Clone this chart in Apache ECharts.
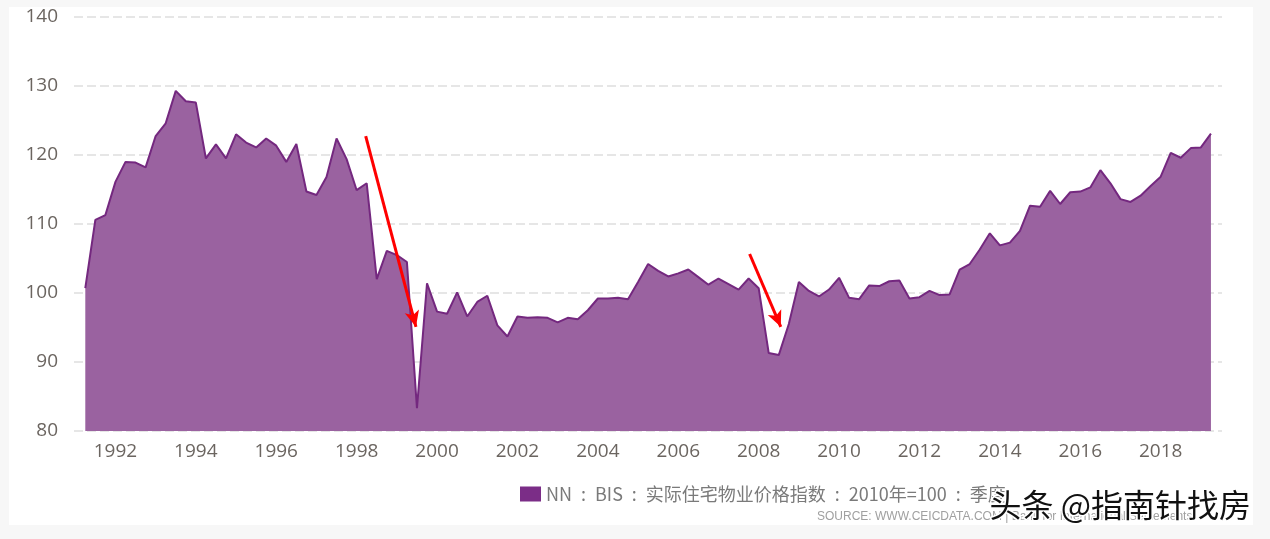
<!DOCTYPE html>
<html>
<head>
<meta charset="utf-8">
<script src="https://cdn.jsdelivr.net/npm/echarts@6/dist/echarts.min.js"></script>
<style>
html,body{margin:0;padding:0;background:#f7f7f7;}
#c{width:1270px;height:539px;}
</style>
</head>
<body>
<div id="c"></div>
<script>
// Quarterly data, first quarter 1991 Q2
const startYear = 1991;
const startQuarter = 2;
const values = [
  100.7, 110.6, 111.3, 116.1, 119.0, 118.9, 118.2, 122.75, 124.6, 129.3,
  127.8, 127.6, 119.5, 121.55, 119.5, 123.0, 121.8, 121.1, 122.4, 121.35,
  119.0, 121.6, 114.7, 114.2, 116.8, 122.4, 119.4, 114.9, 115.9, 102.0,
  106.1, 105.5, 104.5, 83.3, 101.4, 97.3, 97.0, 100.1, 96.6, 98.7,
  99.6, 95.3, 93.7, 96.6, 96.4, 96.5, 96.4, 95.75, 96.4, 96.2,
  97.5, 99.2, 99.2, 99.3, 99.1, 101.6, 104.2, 103.2, 102.4, 102.85,
  103.4, 102.3, 101.2, 102.1, 101.3, 100.5, 102.1, 100.7, 91.3, 91.0,
  95.5, 101.6, 100.3, 99.5, 100.5, 102.2, 99.3, 99.1, 101.1, 101.0,
  101.7, 101.8, 99.2, 99.4, 100.3, 99.7, 99.8, 103.4, 104.2, 106.3,
  108.65, 106.9, 107.3, 109.0, 112.65, 112.5, 114.8, 112.9, 114.6, 114.7,
  115.3, 117.8, 115.9, 113.6, 113.2, 114.1, 115.5, 116.85, 120.3, 119.6,
  121.0, 121.1, 123.1
];
const tickYears = [1992,1994,1996,1998,2000,2002,2004,2006,2008,2010,2012,2014,2016,2018];
const yTicks = [80, 90, 100, 110, 120, 130, 140];
const seriesName = 'NN\u2002:\u2002BIS\u2002:\u2002实际住宅物业价格指数\u2002:\u20022010年=100\u2002:\u2002季度';
// annotation arrows: [fromIndex, fromValue, toIndex, toValue]
const arrows = [
  [27.9, 122.75, 32.9, 95.1],
  [66.1, 105.65, 69.2, 95.1]
];

const categories = values.map((v, i) => {
  const q = startQuarter - 1 + i;
  return (startYear + Math.floor(q / 4)) + 'Q' + (q % 4 + 1);
});
const tickIdx = tickYears.map(y => (y - startYear) * 4 - (startQuarter - 1));
const seriesData = values.map((v, i) => [i, v]);
const axisFont = '"Open Sans", sans-serif';

const chart = echarts.init(document.getElementById('c'), null, {renderer: 'canvas'});
chart.setOption({
  backgroundColor: '#f7f7f7',
  animation: false,
  graphic: [
    {type: 'rect', z: -10, shape: {x: 9, y: 7, width: 1244, height: 518}, style: {fill: '#ffffff'}},
    {type: 'text', z: 50, left: 817, top: 511,
     style: {text: 'SOURCE: WWW.CEICDATA.COM | Bank for International Settlements', fill: '#a0a0a0',
             font: '12px "Liberation Sans", sans-serif'}},
    {type: 'text', z: 60, left: 988, top: 487,
     style: {text: '头条 @指南针找房', fill: '#111111', stroke: '#ffffff', lineWidth: 3,
             font: '32px "Noto Sans CJK SC", sans-serif'}}
  ],
  grid: {left: 74, right: 48, top: 17, bottom: 108, containLabel: false},
  legend: {
    left: 520, top: 485, padding: 0, itemWidth: 21, itemHeight: 15, icon: 'rect',
    data: [{name: seriesName, itemStyle: {color: '#7b2d87'}}],
    textStyle: {color: '#7a7a7a', fontSize: 18, fontFamily: '"Noto Sans CJK SC", sans-serif'}
  },
  xAxis: {
    type: 'value', min: -1.124, max: 113.1,
    axisLine: {show: false}, axisTick: {show: false}, splitLine: {show: false},
    axisLabel: {
      customValues: tickIdx, margin: 11,
      formatter: v => categories[Math.round(v)].slice(0, 4),
      color: '#6b6560', fontSize: 19, fontFamily: axisFont
    }
  },
  yAxis: {
    type: 'value', min: yTicks[0], max: yTicks[yTicks.length - 1], interval: 10,
    axisLine: {show: false}, axisTick: {show: false},
    axisLabel: {margin: 16, color: '#6b6560', fontSize: 19, fontFamily: axisFont},
    splitLine: {show: true, lineStyle: {color: '#dedede', width: 1.5, type: [9, 4]}}
  },
  series: [{
    name: seriesName, type: 'line', data: seriesData,
    showSymbol: false, symbol: 'none',
    itemStyle: {color: '#7b2d87'},
    lineStyle: {color: '#74287f', width: 2},
    areaStyle: {color: '#9a62a0', opacity: 1},
    markLine: {
      silent: true, symbol: ['none', 'arrow'], symbolSize: [11, 16],
      label: {show: false},
      lineStyle: {color: '#ff0000', width: 3, type: 'solid'},
      data: arrows.map(a => [{coord: [a[0], a[1]]}, {coord: [a[2], a[3]]}])
    }
  }]
});
</script>
</body>
</html>
